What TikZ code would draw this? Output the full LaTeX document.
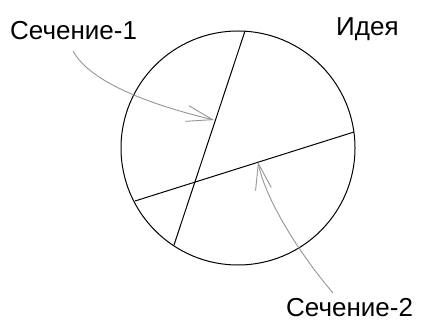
\documentclass[tikz,border=0pt]{standalone}
\usepackage{fontspec}
\setmainfont{Liberation Sans}
\usetikzlibrary{arrows.meta}
\tikzset{
  blackline/.style={line width=1pt, black},
  pointer/.style={line width=0.9pt, draw={rgb,255:red,150;green,150;blue,150},
    -{Straight Barb[length=26pt, width=16pt, line width=0.9pt]}},
  lbl/.style={anchor=base west, inner sep=0pt, font=\fontsize{26}{30}\selectfont}
}
\begin{document}
\begin{tikzpicture}[x=1pt,y=-1pt]
\useasboundingbox (0,0) rectangle (422,320);
\fill[white] (0,0) rectangle (422,320);
\coordinate (c) at (238,148);
\draw[blackline] (c) circle[radius=117pt];
\coordinate (a1) at (245,31);
\coordinate (a2) at (174,245);
\coordinate (b1) at (135,201);
\coordinate (b2) at (354,132);
\draw[blackline] (a1) -- (a2);
\draw[blackline] (b1) -- (b2);
\node[lbl] (s1) at (10,40) {Сечение-1};
\node[lbl] (idea) at (336,36) {Идея};
\node[lbl] (s2) at (286,316) {Сечение-2};
\coordinate (p1s) at (73,51);
\coordinate (p1e) at (214,120);
\coordinate (p2s) at (333,293);
\coordinate (p2e) at (258,162);
\draw[pointer] (p1s) .. controls (92,86) and (164,108) .. (p1e);
\draw[pointer] (p2s) .. controls (303,258) and (266,202) .. (p2e);
\end{tikzpicture}
\end{document}
